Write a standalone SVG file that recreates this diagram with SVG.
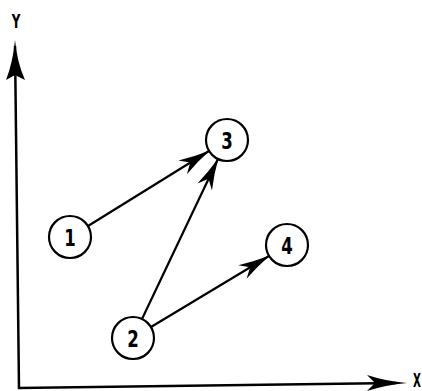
<svg xmlns="http://www.w3.org/2000/svg" width="422" height="391" viewBox="0 0 422 391">
<style>
.node circle{fill:#fff;stroke:#000;stroke-width:2.2}
text{font-family:"DejaVu Sans Condensed","DejaVu Sans",sans-serif;font-weight:bold;font-size:23px;fill:#000;text-anchor:middle;dominant-baseline:central}
.ax{font-size:19px}
.edge{stroke:#000;stroke-width:2.2;fill:none;marker-end:url(#ah)}
.axis{stroke:#000;stroke-width:2.5;fill:none}
</style>
<defs>
<marker id="ah" markerUnits="userSpaceOnUse" markerWidth="40" markerHeight="20" viewBox="-32 -10 34 20" refX="0" refY="0" orient="auto" overflow="visible">
<path d="M1,0 Q-16,-3 -31,-8 L-22,0 L-31,8 Q-16,3 1,0 Z" fill="#000"/>
</marker>
</defs>
<g id="axes">
<path class="axis" d="M15,46 L19,388 L396,383"/>
<path d="M15,40 Q17,62 25,80 L15,75 L6,80 Q13,62 15,40 Z" fill="#000"/>
<path d="M407,383 Q385,385 367,391 L375,383 L367,375 Q385,381 407,383 Z" fill="#000"/>
<text class="ax" transform="translate(16,22) scale(0.7,1)">Y</text>
<text class="ax" transform="translate(417,380) scale(0.6,1)">X</text>
</g>
<g id="connectors">
<line class="edge" x1="88" y1="226" x2="209" y2="151"/>
<line class="edge" x1="142" y1="319" x2="218" y2="159"/>
<line class="edge" x1="151" y1="327" x2="269" y2="256"/>
</g>
<g id="node1" class="node"><circle cx="70" cy="237" r="21"/><text transform="translate(70,238) scale(0.8,1)">1</text></g>
<g id="node2" class="node"><circle cx="133" cy="338" r="21"/><text transform="translate(133,339) scale(0.8,1)">2</text></g>
<g id="node3" class="node"><circle cx="227" cy="140" r="21"/><text transform="translate(227,141) scale(0.8,1)">3</text></g>
<g id="node4" class="node"><circle cx="287" cy="245" r="21"/><text transform="translate(287,246) scale(0.8,1)">4</text></g>
</svg>
